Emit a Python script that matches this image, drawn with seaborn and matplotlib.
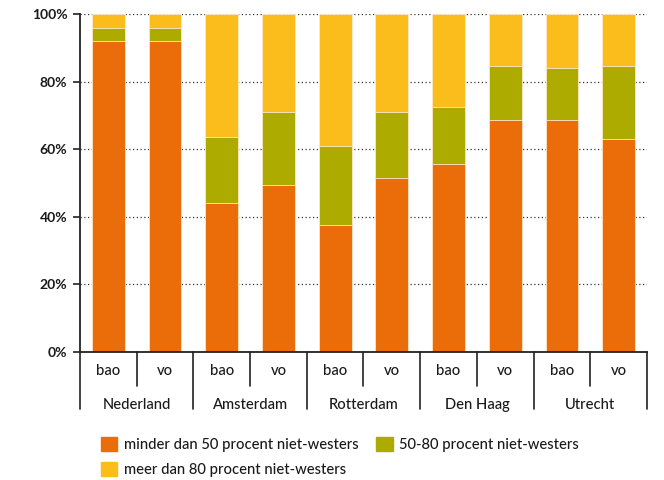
import matplotlib
matplotlib.use("Agg")
import matplotlib.pyplot as plt
import matplotlib.patches as mpatches
import matplotlib.transforms as mtransforms
import seaborn as sns
import pandas as pd
import numpy as np

groups = ["Nederland", "Amsterdam", "Rotterdam", "Den Haag", "Utrecht"]
levels = ["bao", "vo"]
minder50 = [92, 92, 44, 49.5, 37.5, 51.5, 55.5, 68.5, 68.5, 63]
tussen50_80 = [4, 4, 19.5, 21.5, 23.5, 19.5, 17, 16, 15.5, 21.5]
meer80 = [4, 4, 36.5, 29, 39, 29, 27.5, 15.5, 16, 15.5]
series_names = ["minder dan 50 procent niet-westers",
                "50-80 procent niet-westers",
                "meer dan 80 procent niet-westers"]
colors = ["#EA6D0A", "#ADAA00", "#FBBD1B"]
ytick_vals = [0, 20, 40, 60, 80, 100]

labels = [f"{g} {l}" for g in groups for l in levels]
df = pd.DataFrame({
    "bar": labels,
    "s1": minder50,
    "s2": np.array(minder50) + np.array(tussen50_80),
    "s3": np.array(minder50) + np.array(tussen50_80) + np.array(meer80),
})

sns.set_theme(style="white")
plt.rcParams["font.family"] = ["Lato", "DejaVu Sans"]

fig = plt.figure(figsize=(6.64, 4.80), dpi=100)
ax = fig.add_axes([80 / 664, 1 - 352 / 480, 567 / 664, 338 / 480])

for col, c in zip(["s3", "s2", "s1"], [colors[2], colors[1], colors[0]]):
    sns.barplot(data=df, x="bar", y=col, order=labels, color=c, width=0.58,
                edgecolor="#fde8cf", linewidth=0.6, saturation=1, ax=ax)

ax.set_xlim(-0.5, len(labels) - 0.5)
ax.set_ylim(0, 100)
ax.set_yticks(ytick_vals)
ax.set_yticklabels([f"{v}%" for v in ytick_vals], fontsize=10,
                   fontweight="bold", color="#1a1a1a")
ax.set_xticks([])
ax.set_xlabel("")
ax.set_ylabel("")
ax.set_axisbelow(True)
ax.yaxis.grid(True, linestyle=(0, (1, 2)), color="#333333", linewidth=0.9)
ax.xaxis.grid(False)
ax.tick_params(axis="y", length=5, width=1.2, color="#222222", left=True, pad=4)
for s in ["top", "right"]:
    ax.spines[s].set_visible(False)
for s in ["left", "bottom"]:
    ax.spines[s].set_visible(True)
    ax.spines[s].set_color("#222222")
    ax.spines[s].set_linewidth(1.3)

trans = mtransforms.blended_transform_factory(ax.transData, ax.transAxes)
n = len(labels)
for i in range(n + 1):
    x = i - 0.5
    bottom = -0.1686 if i % 2 == 0 else -0.1006
    ax.plot([x, x], [0, bottom], transform=trans, color="#222222",
            linewidth=1.2, clip_on=False)
for i, lab in enumerate(labels):
    ax.text(i, -0.056, levels[i % 2], transform=trans, ha="center",
            va="center", fontsize=10.6, color="#1a1a1a", fontweight="medium")
for gi, g in enumerate(groups):
    ax.text(gi * 2 + 0.5, -0.157, g, transform=trans, ha="center",
            va="center", fontsize=10.6, color="#1a1a1a", fontweight="medium")

handles = [mpatches.Patch(color=colors[0], label=series_names[0]),
           mpatches.Patch(color=colors[2], label=series_names[2]),
           mpatches.Patch(color=colors[1], label=series_names[1])]
fig.legend(handles=handles, loc="upper left", ncol=2,
           bbox_to_anchor=(88 / 664, 1 - 424 / 480), frameon=False,
           prop={"size": 10.6, "weight": "medium"}, handlelength=1.1,
           handleheight=1.1, handletextpad=0.45, columnspacing=1.2,
           labelspacing=0.65, labelcolor="#1a1a1a")

fig.savefig("out.png", dpi=100)
